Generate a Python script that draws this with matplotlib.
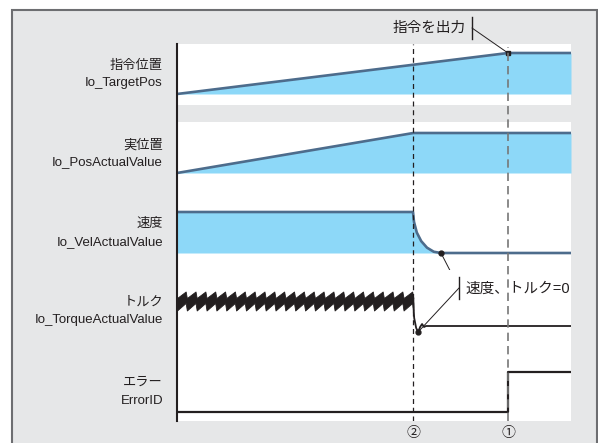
import numpy as np
import matplotlib
matplotlib.use("Agg")
import matplotlib.pyplot as plt
from matplotlib.patches import Rectangle
from matplotlib.lines import Line2D

plt.rcParams["font.family"] = ["Liberation Sans", "Noto Sans CJK JP", "DejaVu Sans"]

# ---- data (time axis 0..100, signals normalised 0..1) ----
t_stop = 60.0      # (2) speed/torque reach zero
t_error = 84.0     # (1) error / command output

target_t = [0, 84, 100]
target_v = [0, 1, 1]

actual_t = [0, 60, 100]
actual_v = [0, 1, 1]

vel_t = [0, 59.9, 60.15, 60.86, 61.98, 63.45, 65.18, 67.0, 100]
vel_v = [1, 1, 0.76, 0.50, 0.29, 0.13, 0.03, 0, 0]

# torque ripple before the stop: one tooth, repeated
torque_tooth_phase = [0.0, 2.2, 2.5]
torque_tooth_upper = [1.12, 1.38, 1.12]
torque_tooth_lower = [0.62, 0.92, 0.62]
torque_period = 2.5
torque_teeth = 24

torque_t = [59.9, 60.2, 60.7, 61.2, 61.7, 62.2, 62.7, 63.2, 100]
torque_v = [1.04, 0.32, -0.08, -0.24, -0.04, 0.08, -0.04, 0, 0]

error_t = [0, 84, 84, 100]
error_v = [0, 0, 1, 1]

labels = [("指令位置", "Io_TargetPos"),
          ("実位置", "Io_PosActualValue"),
          ("速度", "Io_VelActualValue"),
          ("トルク", "Io_TorqueActualValue"),
          ("エラー", "ErrorID")]

# ---- layout (pixels) ----
W, H = 598, 443
fill_c = "#8dd8f8"
line_c = "#4d6c8c"
txt_c = "#231f20"
bg_c = "#e6e7e8"

def fx(px):
    return px / W

def fy(py):
    return 1 - py / H

fig = plt.figure(figsize=(W / 100, H / 100), dpi=100)
fig.patch.set_facecolor("white")
fig.patches.append(Rectangle((fx(12), -0.05), fx(597) - fx(12), fy(10) + 0.05,
                             transform=fig.transFigure, facecolor=bg_c,
                             edgecolor="#6d6e71", linewidth=1.5, zorder=-5))

x0, x1 = 177, 571
# (top px, bottom px, px of value 0, px of value 1)
rows = [(44, 105, 94, 53),
        (122, 192, 173, 133),
        (192, 270, 253, 212),
        (270, 350, 326, 301),
        (350, 421, 412, 372)]

axs = []
for top, bot, p0, p1 in rows:
    ax = fig.add_axes([fx(x0), fy(bot), fx(x1) - fx(x0), (bot - top) / H])
    s = p0 - p1
    ax.set_ylim(-(bot - p0) / s, 1 + (p1 - top) / s)
    ax.set_xlim(0, 100)
    ax.set_facecolor("white")
    for sp in ax.spines.values():
        sp.set_visible(False)
    ax.set_xticks([])
    ax.set_yticks([])
    axs.append(ax)

ax0, ax1, ax2, ax3, ax4 = axs

ax0.fill_between(target_t, target_v, 0, color=fill_c, lw=0)
ax0.plot(target_t, target_v, color=line_c, lw=1.9, solid_capstyle="butt")

ax1.fill_between(actual_t, actual_v, 0, color=fill_c, lw=0)
ax1.plot(actual_t, actual_v, color=line_c, lw=1.9, solid_capstyle="butt")

ax2.fill_between(vel_t, vel_v, 0, color=fill_c, lw=0)
ax2.plot(vel_t, vel_v, color=line_c, lw=1.9, solid_capstyle="butt")

rip_t = (np.arange(torque_teeth)[:, None] * torque_period + np.array(torque_tooth_phase)).ravel()
rip_up = np.tile(torque_tooth_upper, torque_teeth)
rip_lo = np.tile(torque_tooth_lower, torque_teeth)
ax3.fill_between(rip_t, rip_lo, rip_up, color=txt_c, lw=0.6, edgecolor=txt_c)
ax3.plot(torque_t, torque_v, color=txt_c, lw=1.3)

ax4.plot(error_t, error_v, color=txt_c, lw=1.6)

# overlay axes: left axis line and event markers
ov = fig.add_axes([fx(x0), fy(421), fx(x1) - fx(x0), (421 - 44) / H])
ov.set_xlim(0, 100)
ov.set_ylim(0, 1)
ov.patch.set_visible(False)
for k in ["top", "right", "bottom"]:
    ov.spines[k].set_visible(False)
ov.spines["left"].set_linewidth(1.5)
ov.spines["left"].set_color(txt_c)
ov.set_xticks([])
ov.set_yticks([])
ov.axvline(t_stop, ymin=0, ymax=1, color=txt_c, lw=0.9, dashes=(4, 3))
ov.axvline(t_error, ymin=0, ymax=(421 - 47) / (421 - 44), color="#777777", lw=1.2, dashes=(5, 3))
for t, s in [(t_stop, "②"), (t_error, "①")]:
    ov.annotate(s, xy=(t, -(433 - 421) / (421 - 44)), xycoords=("data", "axes fraction"),
                ha="center", va="center", fontsize=10, color=txt_c,
                annotation_clip=False)

# row labels
label_y = [(66, 83), (145, 162), (224, 242), (303, 320), (383, 401)]
for (jp, en), (y1, y2) in zip(labels, label_y):
    fig.text(fx(163), fy(y1), jp, ha="right", va="center", fontsize=9.5, color=txt_c)
    fig.text(fx(163), fy(y2), en, ha="right", va="center", fontsize=9.5, color=txt_c)

# callout: command output
fig.text(fx(466), fy(28), "指令を出力", ha="right", va="center", fontsize=10.5, color=txt_c)
fig.add_artist(Line2D([fx(472), fx(472)], [fy(17), fy(39)], transform=fig.transFigure,
                      color=txt_c, lw=1))
ax0.annotate("", xy=(t_error, 1), xycoords="data", xytext=(fx(472), fy(28)),
             textcoords="figure fraction", annotation_clip=False,
             arrowprops=dict(arrowstyle="-", color=txt_c, lw=0.7, shrinkA=0, shrinkB=0))
ax0.plot([t_error], [1], "s", color=txt_c, ms=3.5, clip_on=False, zorder=5)

# callout: speed / torque zero
fig.text(fx(465), fy(289), "速度、トルク=0", ha="left", va="center", fontsize=10.5, color=txt_c)
fig.add_artist(Line2D([fx(459), fx(459)], [fy(277), fy(299)], transform=fig.transFigure,
                      color=txt_c, lw=1))
for ax, (t, v) in [(ax2, (67.0, 0)), (ax3, (61.2, -0.24))]:
    ax.annotate("", xy=(t, v), xycoords="data", xytext=(fx(459), fy(288)),
                textcoords="figure fraction", annotation_clip=False,
                arrowprops=dict(arrowstyle="-", color=txt_c, lw=0.7, shrinkA=0, shrinkB=0))
    ax.plot([t], [v], "o", color=txt_c, ms=3.5, clip_on=False, zorder=5)

fig.savefig("out.png", dpi=100, facecolor=fig.get_facecolor())
